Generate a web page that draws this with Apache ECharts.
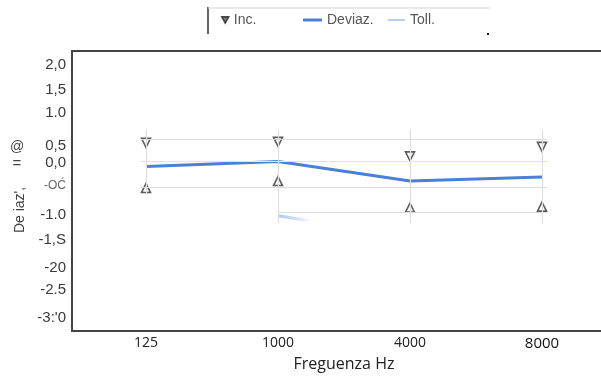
<!DOCTYPE html>
<html>
<head>
<meta charset="utf-8">
<script src="https://cdn.jsdelivr.net/npm/echarts@6/dist/echarts.min.js"></script>
<style>
  html, body { margin: 0; padding: 0; background: #fff; }
  #chart { width: 601px; height: 377px; }
</style>
</head>
<body>
<div id="chart"></div>
<script>
// Frequencies on the x axis
const freqLabels = ['125', '1000', '4000', '8000'];

// Measured deviation per frequency
const deviazValues = [-0.05, 0.05, -0.34, -0.26];

// Uncertainty band: upper (down triangles) and lower (up triangles) limits
const incUpper = [0.42, 0.44, 0.15, 0.34];
const incLower = [-0.48, -0.34, -0.87, -0.85];

// Tolerance curve (only the 1000 Hz start is visible)
const tollValues = [null, -1.03, -1.45, null];

// Y axis ticks and their printed labels
const yTickValues = [2, 1.5, 1, 0.5, 0, -0.5, -1, -1.5, -2, -2.5, -3];
const yTickLabels = ['2,0', '1,5', '1.0', '0,5', '0,0', '-OĆ', '-1.0', '-1,S', '-20', '-2.5', "-3:'0"];

// Faint reference lines around the data
const refLevels = [0.5, 0.05, -0.46, -0.97];

// Vertical pixel nudges for the printed y labels (positive = down)
const labelNudge = [1, 1, -2, 6, -3, -5, -2, -2, 0, -3, 0];

const toPairs = arr => arr.map((v, i) => [i, v]);

const Y_MIN = -3.25, Y_MAX = 2.25;
const X_MIN = -0.05, X_MAX = 3.05;
const chart = echarts.init(document.getElementById('chart'), null, { renderer: 'canvas' });

const triPath = 'path://M0,0 L10,0 L5,9 Z';

const refLines = [];
refLevels.forEach((lv, k) => {
  const x0 = k === 3 ? 1 : -0.04;
  refLines.push([
    { coord: [x0, lv], lineStyle: { color: k === 1 ? '#efe3c0' : '#dcdcdc', width: 1.2, type: 'solid' } },
    { coord: [3.04, lv] }
  ]);
});
freqLabels.forEach((f, i) => {
  refLines.push([
    { coord: [i, 0.68], lineStyle: { color: '#dedede', width: 1.2, type: 'solid' } },
    { coord: [i, i === 0 ? -0.6 : -1.18] }
  ]);
});

// rich styles that shift each y label a few pixels
const yRich = {};
labelNudge.forEach((d, i) => {
  const pad = [d > 0 ? 2 * d : 0, 0, d < 0 ? -2 * d : 0, 0];
  yRich['n' + i] = {
    fontFamily: 'Liberation Sans',
    fontSize: i === 5 ? 12 : 15,
    color: i === 5 ? '#666' : '#3a3a3a',
    padding: pad
  };
});

const frameAxisLine = { show: true, onZero: false, lineStyle: { color: '#444', width: 2 } };

const option = {
  animation: false,
  backgroundColor: '#ffffff',
  grid: [
    { left: 146 - 0.05 * 132, right: 601 - 542 - 0.05 * 132, top: 51, bottom: 46 },
    { left: 72, right: 0, top: 51, bottom: 46 }
  ],
  xAxis: [
    {
      gridIndex: 0, type: 'value', min: X_MIN, max: X_MAX, interval: 0.05,
      axisLine: { show: false }, axisTick: { show: false }, splitLine: { show: false },
      axisLabel: {
        margin: 9,
        fontFamily: 'Open Sans', fontSize: 14, color: '#222',
        formatter: v => {
          const r = Math.round(v);
          if (Math.abs(v - r) > 1e-6 || r < 0 || r > 3) return '';
          return r === 3 ? '{b|' + freqLabels[r] + '}' : freqLabels[r];
        },
        rich: { b: { fontFamily: 'Open Sans', fontSize: 15, color: '#111', fontWeight: 500 } }
      },
      name: 'Freguenza Hz', nameLocation: 'middle', nameGap: 28,
      nameTextStyle: { fontFamily: 'Open Sans', fontSize: 16, color: '#222' }
    },
    { gridIndex: 1, type: 'value', min: 0, max: 1, position: 'bottom', axisLine: frameAxisLine, axisTick: { show: false }, axisLabel: { show: false }, splitLine: { show: false } },
    { gridIndex: 1, type: 'value', min: 0, max: 1, position: 'top', axisLine: frameAxisLine, axisTick: { show: false }, axisLabel: { show: false }, splitLine: { show: false } }
  ],
  yAxis: [
    { gridIndex: 0, type: 'value', min: Y_MIN, max: Y_MAX, show: false },
    {
      gridIndex: 1, type: 'value', min: Y_MIN, max: Y_MAX, interval: 0.25,
      axisLine: frameAxisLine, axisTick: { show: false }, splitLine: { show: false },
      axisLabel: {
        margin: 6,
        fontFamily: 'Liberation Sans', fontSize: 15, color: '#3a3a3a',
        formatter: v => {
          const i = yTickValues.findIndex(t => Math.abs(t - v) < 1e-6);
          if (i < 0) return '';
          return '{n' + i + '|' + yTickLabels[i] + '}';
        },
        rich: yRich
      }
    }
  ],
  legend: [
    {
      data: [{ name: 'Inc.', icon: triPath, itemStyle: { color: '#555', borderColor: '#222', borderWidth: 1.5 } }],
      left: 221, top: 13, padding: 0, itemWidth: 7, itemHeight: 7, selectedMode: false,
      textStyle: { fontFamily: 'Liberation Sans', fontSize: 14, color: '#555' }
    },
    {
      data: [{ name: 'Deviaz.', icon: 'rect' }],
      left: 303, top: 13, padding: 0, itemWidth: 19, itemHeight: 3, selectedMode: false,
      textStyle: { fontFamily: 'Liberation Sans', fontSize: 14, color: '#555' }
    },
    {
      data: [{ name: 'Toll.', icon: 'rect' }],
      left: 388, top: 13, padding: 0, itemWidth: 17, itemHeight: 2, selectedMode: false,
      textStyle: { fontFamily: 'Liberation Sans', fontSize: 14, color: '#555' }
    }
  ],
  graphic: [
    { type: 'line', shape: { x1: 208, y1: 7, x2: 208, y2: 34 }, style: { stroke: '#666', lineWidth: 2 } },
    { type: 'line', shape: { x1: 208, y1: 8, x2: 490, y2: 8 }, style: { stroke: '#d6d6d6', lineWidth: 1 } },
    { type: 'rect', shape: { x: 487, y: 33, width: 2, height: 2 }, style: { fill: '#222' } },
    {
      type: 'text', x: 20, y: 210, rotation: Math.PI / 2,
      style: { text: "De iaz',", fontFamily: 'Liberation Sans', fontSize: 14, fill: '#444', align: 'center', verticalAlign: 'middle' }
    },
    {
      type: 'text', x: 17, y: 164, rotation: 0,
      style: { text: '=', fontFamily: 'Liberation Sans', fontSize: 15, fill: '#444', align: 'center', verticalAlign: 'middle' }
    },
    {
      type: 'text', x: 17, y: 147, rotation: 0,
      style: { text: '@', fontFamily: 'Liberation Sans', fontSize: 14, fill: '#444', align: 'center', verticalAlign: 'middle' }
    }
  ],
  series: [
    {
      name: 'Toll.', type: 'line', xAxisIndex: 0, yAxisIndex: 0,
      data: toPairs(tollValues), showSymbol: false, connectNulls: false,
      itemStyle: { color: '#b8cfee' },
      lineStyle: {
        width: 3,
        color: new echarts.graphic.LinearGradient(276, 0, 312, 0, [
          { offset: 0, color: 'rgba(160,195,235,0.95)' },
          { offset: 0.6, color: 'rgba(180,205,238,0.6)' },
          { offset: 1, color: 'rgba(200,220,245,0)' }
        ], true)
      },
      z: 2
    },
    {
      name: 'Deviaz.', type: 'line', xAxisIndex: 0, yAxisIndex: 0,
      data: toPairs(deviazValues), showSymbol: false,
      itemStyle: { color: '#4a80d8' },
      lineStyle: { color: '#4a80d8', width: 3 },
      markLine: { silent: true, symbol: 'none', label: { show: false }, data: refLines },
      z: 3
    },
    {
      name: 'Inc.', type: 'scatter', xAxisIndex: 0, yAxisIndex: 0,
      data: toPairs(incUpper), symbol: 'triangle', symbolRotate: 180, symbolSize: [9, 9],
      itemStyle: { color: '#fff', borderColor: '#333', borderWidth: 1.6 },
      z: 4
    },
    {
      name: 'Inc.', type: 'scatter', xAxisIndex: 0, yAxisIndex: 0,
      data: toPairs(incLower), symbol: 'triangle', symbolSize: [9, 9],
      itemStyle: { color: '#fff', borderColor: '#333', borderWidth: 1.6 },
      z: 4
    }
  ]
};

chart.setOption(option);
</script>
</body>
</html>
